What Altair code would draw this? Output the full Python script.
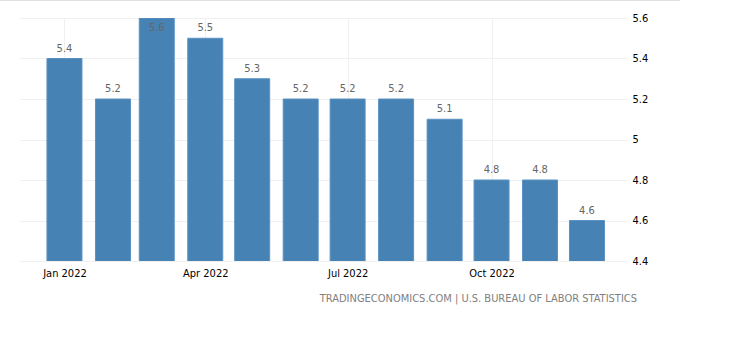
import altair as alt
import pandas as pd

months = ["2022-01-01", "2022-02-01", "2022-03-01", "2022-04-01", "2022-05-01", "2022-06-01",
          "2022-07-01", "2022-08-01", "2022-09-01", "2022-10-01", "2022-11-01", "2022-12-01"]
values = [5.4, 5.2, 5.6, 5.5, 5.3, 5.2, 5.2, 5.2, 5.1, 4.8, 4.8, 4.6]
y_ticks = [4.4, 4.6, 4.8, 5.0, 5.2, 5.4, 5.6]
source_text = "TRADINGECONOMICS.COM | U.S. BUREAU OF LABOR STATISTICS"

df = pd.DataFrame({"date": months, "value": values})

FONT = "DejaVu Sans Condensed"

x_scale = alt.Scale(type="utc", padding=0, domain=[
    alt.DateTime(year=2021, month=12, date=3, hours=14, utc=True),
    alt.DateTime(year=2022, month=12, date=26, hours=14, utc=True),
])
y_scale = alt.Scale(domain=[4.4, 5.6], zero=False, nice=False)

x_enc = alt.X("date:T", scale=x_scale, title=None,
              axis=alt.Axis(values=[alt.DateTime(year=2022, month=m, date=1, utc=True) for m in [1, 4, 7, 10]],
                            labelExpr="utcFormat(datum.value, '%b %Y')", grid=True, gridColor="#f0f0f0",
                            domain=False, ticks=False, labelFont=FONT, labelFontSize=11,
                            labelColor="#000000", labelPadding=6))

base = alt.Chart(df)

bars = base.mark_bar(width=35, color="#4682b4", stroke="#5b92c4", strokeWidth=1, clip=True).encode(
    x=x_enc,
    y=alt.Y("value:Q", scale=y_scale, title=None,
            axis=alt.Axis(orient="right", values=y_ticks, format=".1~f", grid=True,
                          gridColor="#f0f0f0", domain=False, ticks=False, labelPadding=5,
                          labelFont=FONT, labelFontSize=11, labelColor="#000000",
                          labelAlign="left", labelBaseline="middle")),
)

labels = base.transform_calculate(
    label_y="min(datum.value, 5.5)"
).mark_text(font=FONT, fontSize=11, color="#666666", baseline="alphabetic", dy=-7).encode(
    x=alt.X("date:T", scale=x_scale),
    y=alt.Y("label_y:Q", scale=y_scale),
    text=alt.Text("value:Q", format=".1f"),
)

top_line = alt.Chart(pd.DataFrame({"a": [0]})).mark_rule(color="#e0e0e0", strokeWidth=1).encode(
    x=alt.value(-20), x2=alt.value(660), y=alt.value(-17.5)
)

footer = alt.Chart(pd.DataFrame({"t": [source_text]})).mark_text(
    font=FONT, fontSize=11, color="#808080", align="right", baseline="middle"
).encode(x=alt.value(617), y=alt.value(281), text="t:N")

chart = alt.layer(bars, labels, top_line, footer).properties(
    width=607, height=243,
    padding={"left": 20, "top": 18, "right": 128, "bottom": 90},
    autosize="none",
).configure_view(stroke=None)

chart.save("out.html", embed_options={"renderer": "svg", "actions": False})
